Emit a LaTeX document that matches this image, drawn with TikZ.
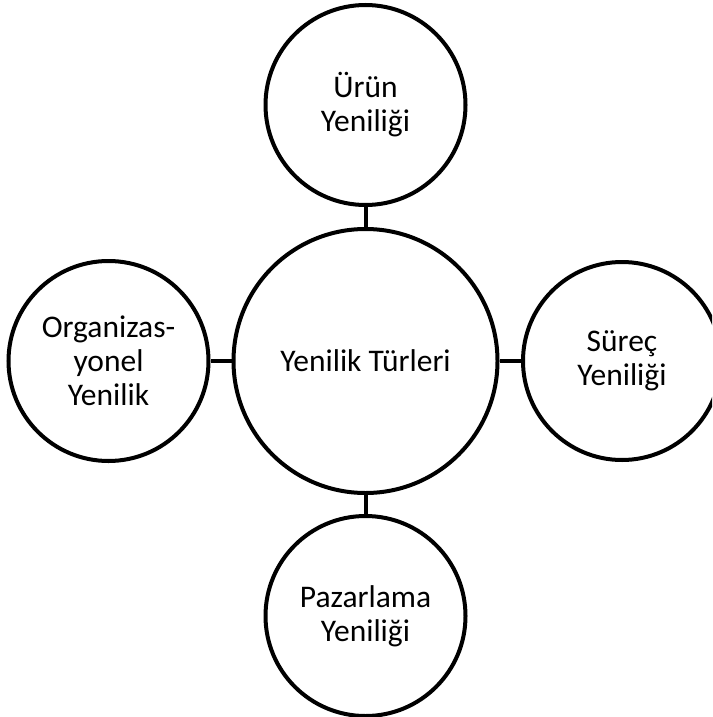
\documentclass[tikz,border=0pt]{standalone}
\usepackage{fontspec}
\setmainfont{Carlito}
\begin{document}
\begin{tikzpicture}[x=1pt,y=-1pt,
  bubble/.style={circle,draw=black,line width=4pt,inner sep=0pt,align=center,
    font=\fontsize{31.5}{34}\selectfont,text=black},
  link/.style={draw=black,line width=4pt}]
\useasboundingbox (0,0) rectangle (712,717);
\clip (0,0) rectangle (712,717);
\fill[white] (0,0) rectangle (712,717);
\node[bubble,minimum size=264pt] (c) at (365.5,361) {Yenilik Türleri};
\node[bubble,minimum size=200pt] (t) at (365.5,105) {Ürün\\Yeniliği};
\node[bubble,minimum size=200pt] (l) at (108.5,361) {Organizas-\\yonel\\Yenilik};
\node[bubble,minimum size=198pt] (r) at (622,361) {Süreç\\Yeniliği};
\node[bubble,minimum size=200pt] (b) at (365.5,616) {Pazarlama\\Yeniliği};
\draw[link] (c.north) -- (t.south);
\draw[link] (c.west) -- (l.east);
\draw[link] (c.east) -- (r.west);
\draw[link] (c.south) -- (b.north);
\end{tikzpicture}
\end{document}
